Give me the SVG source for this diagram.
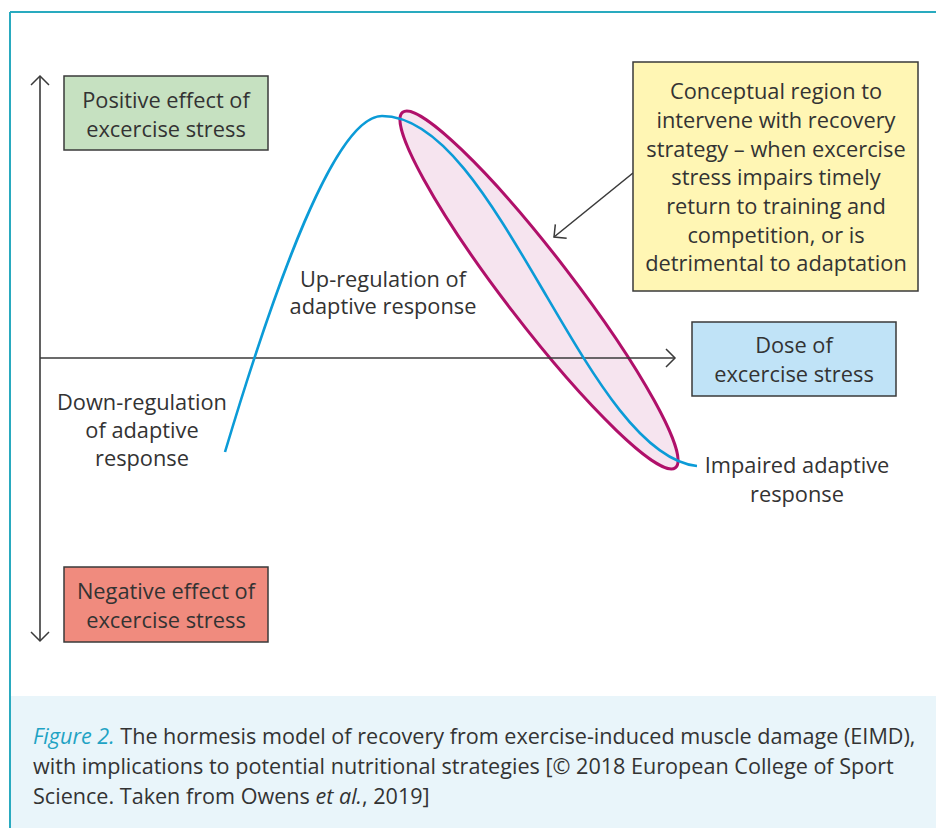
<svg xmlns="http://www.w3.org/2000/svg" width="936" height="828" viewBox="0 0 936 828">
<style>
  .t { font-family: "Open Sans", "Noto Sans", "DejaVu Sans", sans-serif; font-size: 21.8px; fill: #333333; text-anchor: middle; }
  .box { stroke: #3a3a3a; stroke-width: 1.5; }
  .axis { stroke: #3a3a3a; stroke-width: 1.6; fill: none; }
  .cap { font-family: "Open Sans", "Noto Sans", "DejaVu Sans", sans-serif; font-size: 21.6px; fill: #333333; }
</style>
<defs>
  <marker id="chev" viewBox="-11 -11 13 22" markerWidth="13" markerHeight="22" refX="0" refY="0" orient="auto-start-reverse" markerUnits="userSpaceOnUse">
    <path d="M-9,-9 L0,0 L-9,9" fill="none" stroke="#3a3a3a" stroke-width="1.5"/>
  </marker>
</defs>
<rect x="0" y="0" width="936" height="828" fill="#ffffff"/>
<g id="frame">
  <rect x="11" y="696" width="925" height="132" fill="#e9f5fa"/>
  <line x1="10" y1="12" x2="936" y2="12" stroke="#29aabf" stroke-width="2"/>
  <line x1="10" y1="12" x2="10" y2="828" stroke="#29aabf" stroke-width="2"/>
</g>
<g id="region">
  <ellipse cx="539" cy="290" rx="224" ry="34" transform="rotate(52.5 539 290)" fill="#f6e4ef" stroke="#b0106a" stroke-width="3"/>
</g>
<g id="connectors">
  <line class="axis" x1="40" y1="641" x2="40" y2="76" marker-start="url(#chev)" marker-end="url(#chev)"/>
  <line class="axis" x1="40" y1="358" x2="675" y2="358" marker-end="url(#chev)"/>
  <line class="axis" x1="633" y1="173" x2="554" y2="237" stroke-width="1.3" marker-end="url(#chev)"/>
</g>
<g id="curve">
  <path d="M225,452 C275,285 335,116 382,116 C440,116 490,200 540,285 S640,460 697,466" fill="none" stroke="#0b9bd7" stroke-width="2.6"/>
</g>
<g id="box-positive">
  <rect class="box" x="64" y="76" width="204" height="74" fill="#c6e1c1"/>
  <text class="t" x="166" y="108">Positive effect of</text>
  <text class="t" x="166" y="137">excercise stress</text>
</g>
<g id="box-negative">
  <rect class="box" x="64" y="567" width="204" height="75" fill="#f08b7e"/>
  <text class="t" x="166" y="599">Negative effect of</text>
  <text class="t" x="166" y="628">excercise stress</text>
</g>
<g id="box-conceptual">
  <rect class="box" x="633" y="62" width="285" height="229" fill="#fff6b4"/>
  <text class="t" x="776" y="99">Conceptual region to</text>
  <text class="t" x="776" y="128">intervene with recovery</text>
  <text class="t" x="776" y="157">strategy – when excercise</text>
  <text class="t" x="776" y="185">stress impairs timely</text>
  <text class="t" x="776" y="214">return to training and</text>
  <text class="t" x="776" y="243">competition, or is</text>
  <text class="t" x="776" y="271">detrimental to adaptation</text>
</g>
<g id="box-dose">
  <rect class="box" x="692" y="322" width="204" height="74" fill="#c0e3f7"/>
  <text class="t" x="794" y="353">Dose of</text>
  <text class="t" x="794" y="382">excercise stress</text>
</g>
<g id="label-up">
  <text class="t" x="383" y="287">Up-regulation of</text>
  <text class="t" x="383" y="314">adaptive response</text>
</g>
<g id="label-down">
  <text class="t" x="142" y="410">Down-regulation</text>
  <text class="t" x="142" y="438">of adaptive</text>
  <text class="t" x="142" y="466">response</text>
</g>
<g id="label-impaired">
  <text class="t" x="797" y="473">Impaired adaptive</text>
  <text class="t" x="797" y="502">response</text>
</g>
<g id="caption">
  <text class="cap" x="33" y="744"><tspan fill="#1fa3c4" font-style="italic">Figure 2.</tspan> The hormesis model of recovery from exercise-induced muscle damage (EIMD),</text>
  <text class="cap" x="33" y="774">with implications to potential nutritional strategies [© 2018 European College of Sport</text>
  <text class="cap" x="33" y="804">Science. Taken from Owens <tspan font-style="italic">et al.</tspan>, 2019]</text>
</g>
</svg>
